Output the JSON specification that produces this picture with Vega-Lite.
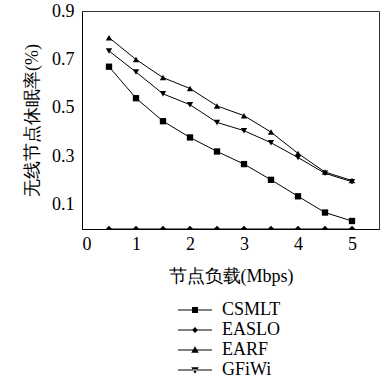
{
  "$schema": "https://vega.github.io/schema/vega-lite/v6.json",
  "width": 297,
  "height": 218,
  "autosize": "none",
  "padding": {"left": 82, "top": 11, "right": 1, "bottom": 161},
  "background": "white",
  "config": {
    "font": "Liberation Serif",
    "view": {"stroke": "#333", "strokeWidth": 1}
  },
  "data": {"values": [
    {"x": 0.5, "y": 0.67, "s": "CSMLT"}, {"x": 1, "y": 0.54, "s": "CSMLT"}, {"x": 1.5, "y": 0.445, "s": "CSMLT"}, {"x": 2, "y": 0.378, "s": "CSMLT"}, {"x": 2.5, "y": 0.32, "s": "CSMLT"}, {"x": 3, "y": 0.268, "s": "CSMLT"}, {"x": 3.5, "y": 0.203, "s": "CSMLT"}, {"x": 4, "y": 0.135, "s": "CSMLT"}, {"x": 4.5, "y": 0.068, "s": "CSMLT"}, {"x": 5, "y": 0.033, "s": "CSMLT"},
    {"x": 0.5, "y": 0, "s": "EASLO"}, {"x": 1, "y": 0, "s": "EASLO"}, {"x": 1.5, "y": 0, "s": "EASLO"}, {"x": 2, "y": 0, "s": "EASLO"}, {"x": 2.5, "y": 0, "s": "EASLO"}, {"x": 3, "y": 0, "s": "EASLO"}, {"x": 3.5, "y": 0, "s": "EASLO"}, {"x": 4, "y": 0, "s": "EASLO"}, {"x": 4.5, "y": 0, "s": "EASLO"}, {"x": 5, "y": 0, "s": "EASLO"},
    {"x": 0.5, "y": 0.79, "s": "EARF"}, {"x": 1, "y": 0.7, "s": "EARF"}, {"x": 1.5, "y": 0.625, "s": "EARF"}, {"x": 2, "y": 0.58, "s": "EARF"}, {"x": 2.5, "y": 0.508, "s": "EARF"}, {"x": 3, "y": 0.468, "s": "EARF"}, {"x": 3.5, "y": 0.4, "s": "EARF"}, {"x": 4, "y": 0.312, "s": "EARF"}, {"x": 4.5, "y": 0.235, "s": "EARF"}, {"x": 5, "y": 0.2, "s": "EARF"},
    {"x": 0.5, "y": 0.735, "s": "GFiWi"}, {"x": 1, "y": 0.648, "s": "GFiWi"}, {"x": 1.5, "y": 0.558, "s": "GFiWi"}, {"x": 2, "y": 0.513, "s": "GFiWi"}, {"x": 2.5, "y": 0.44, "s": "GFiWi"}, {"x": 3, "y": 0.406, "s": "GFiWi"}, {"x": 3.5, "y": 0.356, "s": "GFiWi"}, {"x": 4, "y": 0.295, "s": "GFiWi"}, {"x": 4.5, "y": 0.23, "s": "GFiWi"}, {"x": 5, "y": 0.195, "s": "GFiWi"}
  ]},
  "encoding": {
    "x": {"field": "x", "type": "quantitative", "scale": {"domain": [0, 5.5], "nice": false, "zero": false},
      "axis": {"values": [0, 1, 2, 3, 4, 5], "grid": false, "ticks": false, "domainColor": "#000", "labelFont": "Liberation Serif", "labelFontSize": 18, "labelColor": "#000", "labelPadding": 6, "title": "节点负载(Mbps)", "titleFont": "Liberation Serif", "titleFontSize": 18, "titleFontWeight": "normal", "titleColor": "#000", "titlePadding": 14}},
    "y": {"field": "y", "type": "quantitative", "scale": {"domain": [0, 0.9], "nice": false},
      "axis": {"values": [0.1, 0.3, 0.5, 0.7, 0.9], "format": ".1f", "grid": false, "ticks": false, "domainColor": "#000", "labelFont": "Liberation Serif", "labelFontSize": 18, "labelColor": "#000", "labelPadding": 8, "title": "无线节点休眠率(%)", "titleFont": "Liberation Serif", "titleFontSize": 18, "titleFontWeight": "normal", "titleColor": "#000", "titlePadding": 10}}
  },
  "layer": [
    {"mark": {"type": "line", "color": "#000", "strokeWidth": 1}, "encoding": {"detail": {"field": "s"}}},
    {"mark": {"type": "point", "filled": true, "color": "#000", "opacity": 1, "size": 40, "clip": true},
     "encoding": {"shape": {"field": "s", "type": "nominal",
       "scale": {"domain": ["CSMLT", "EASLO", "EARF", "GFiWi"], "range": ["square", "diamond", "triangle-up", "triangle-down"]},
       "legend": null}}},
    {"transform": [{"filter": "datum.x < 0"}],
     "mark": {"type": "point", "filled": true, "color": "#000", "opacity": 1},
     "encoding": {"shape": {"field": "s", "type": "nominal",
       "scale": {"domain": ["CSMLT", "EASLO", "EARF", "GFiWi"], "range": [
         "M-3.4,-0.1H3.4V0.1H-3.4ZM-0.6,-0.6H0.6V0.6H-0.6Z",
         "M-3.4,-0.1H3.4V0.1H-3.4ZM0,-0.6L0.6,0L0,0.6L-0.6,0Z",
         "M-3.4,-0.1H3.4V0.1H-3.4ZM0,-0.75L0.75,0.55H-0.75Z",
         "M-3.4,-0.1H3.4V0.1H-3.4ZM0,0.75L0.75,-0.55H-0.75Z"]},
       "legend": {"title": null, "orient": "none", "legendX": 104, "legendY": 290, "symbolSize": 100, "symbolFillColor": "#000", "symbolOpacity": 1, "labelOffset": 18, "labelFont": "Liberation Serif", "labelFontSize": 18, "labelColor": "#000", "rowPadding": 2}}}}
  ],
  "resolve": {"scale": {"shape": "independent"}}
}
